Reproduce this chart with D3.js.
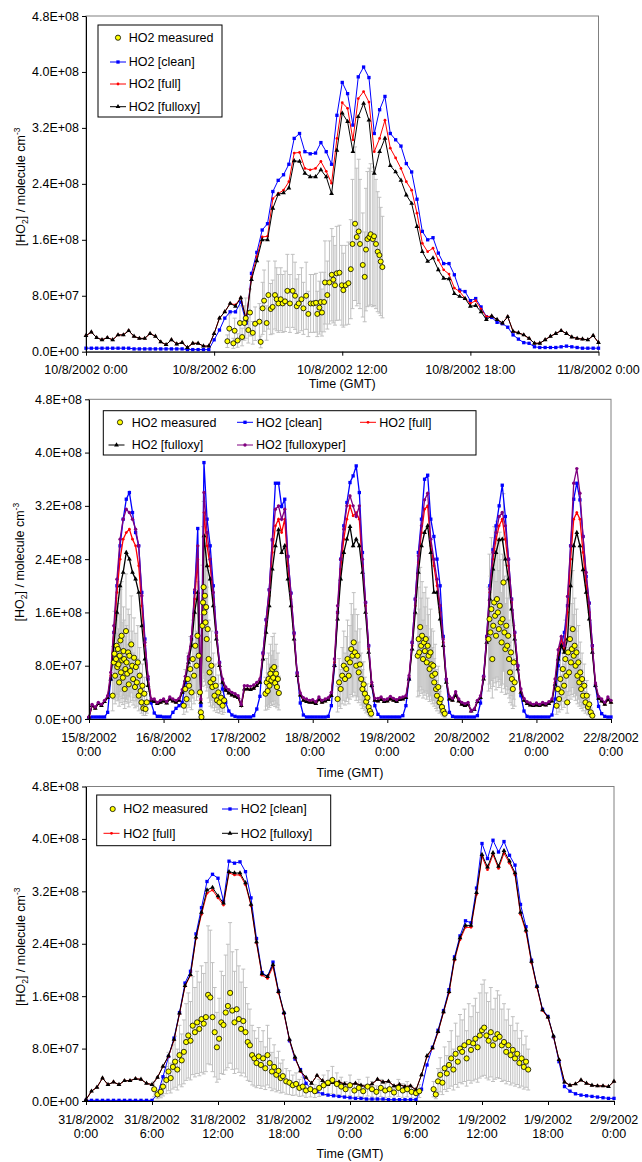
<!DOCTYPE html>
<html>
<head>
<meta charset="utf-8">
<style>
body { margin: 0; background: #fff; }
svg { display: block; background: #fff; }
text { font-family: 'Liberation Sans', Arial, sans-serif; }
</style>
</head>
<body>

<svg id='chart'></svg>

<script src="https://d3js.org/d3.v7.min.js"></script>
<script>
W = 642
H = 1162
FONT = 12.5
UNIT = 1e7   // all series values below are in units of 1e7 molecule cm-3
Y_MAX = 4.8e8
Y_TICKS = [0, 8e7, 1.6e8, 2.4e8, 3.2e8, 4.0e8, 4.8e8]

// ---------- panel 1 : 10/8/2002, model output every 15 min ----------
TOP_STEP = 0.25
TOP_CLEAN = [0.5,0.5,0.5,0.5,0.5,0.5,0.5,0.5,0.5,0.4,0.4,0.4,0.4,0.4,0.4,0.4,0.4,0.4,0.4,0.3,0.3,0.3,0.3,0.3,
  1.7,3.1,4.8,5.7,5.7,7.1,4.1,11.2,14.2,17.4,18.3,22.9,24.5,25.3,26.8,30.5,31.2,28.6,28.3,28.4,29.9,28.6,26.8,33.8,
  38.5,36.9,32.4,39.3,40.7,39.2,31.2,34.6,36.5,31.2,30.3,29.4,26.9,25.7,21.8,17.2,16.0,16.3,14.1,12.6,12.6,11.0,8.8,8.6,
  7.3,7.6,6.4,5.0,4.9,4.2,4.0,3.5,2.4,1.8,1.3,1.2,0.7,0.6,0.6,0.6,0.6,0.7,0.8,0.7,0.6,0.5,0.5,0.5,0.5]
TOP_FULL = [2.3,2.8,2.0,1.7,2.0,1.7,2.4,2.4,3.0,2.2,1.9,1.9,2.6,2.2,1.4,1.0,1.7,1.1,1.3,0.6,1.2,1.2,0.8,0.8,
  2.6,4.8,5.7,6.9,6.7,7.7,4.7,10.6,13.6,16.4,16.5,21.9,22.6,23.1,24.3,28.4,28.5,26.2,26.0,26.2,27.2,25.8,24.1,30.5,
  35.6,34.8,30.3,36.2,37.2,35.7,28.6,30.5,33.1,29.1,27.7,26.2,24.3,23.1,19.8,15.5,14.3,14.8,13.1,11.7,11.1,9.1,8.6,7.6,
  6.9,7.3,6.1,5.0,5.1,4.6,4.1,5.0,2.9,2.7,2.4,1.9,1.2,1.2,1.7,2.2,2.6,3.0,2.6,2.1,1.9,1.8,1.7,2.3,1.3]
TOP_FULLOXY = [2.3,2.8,2.0,1.7,2.0,1.7,2.4,2.4,3.0,2.2,1.9,1.9,2.6,2.2,1.4,1.0,1.7,1.1,1.3,0.6,1.2,1.2,0.8,0.8,
  2.6,4.8,5.7,6.9,6.5,7.7,4.5,10.3,13.0,16.0,16.0,20.5,22.5,22.7,23.4,27.3,27.2,25.5,25.0,25.0,26.0,25.0,22.6,28.8,
  34.1,32.9,28.6,33.6,35.5,33.1,25.5,28.6,30.5,26.6,25.7,24.5,22.4,21.2,17.9,14.3,12.9,13.4,11.7,10.5,10.4,8.3,7.9,7.6,
  6.5,6.6,5.7,4.6,5.1,4.6,4.1,5.0,2.9,2.7,2.4,1.9,1.2,1.2,1.7,2.2,2.6,3.0,2.6,2.1,1.9,1.8,1.7,2.3,1.3]
// measured HO2: [hour, value]
TOP_MEAS = [[6.62,1.5],[6.71,3.3],[6.90,1.2],[6.96,3.0],[7.10,1.6],[7.21,4.1],[7.31,2.1],[7.42,4.1],[7.48,4.8],
  [7.60,3.1],[7.68,5.6],[7.81,2.7],[7.92,4.0],[8.12,4.3],[8.18,1.4],[8.27,6.2],[8.34,7.3],[8.46,4.1],[8.54,8.1],
  [8.65,6.1],[8.74,6.4],[8.85,8.1],[8.93,7.5],[9.01,6.9],[9.12,7.5],[9.21,6.9],[9.32,7.2],[9.43,8.7],[9.55,6.9],
  [9.68,8.7],[9.79,8.0],[9.87,6.5],[9.96,6.9],[10.09,7.5],[10.18,6.2],[10.31,8.0],[10.41,5.4],[10.52,6.9],[10.65,6.9],
  [10.77,7.0],[10.83,5.4],[10.93,6.3],[10.99,7.1],[11.05,5.6],[11.15,7.1],[11.19,9.9],[11.30,8.1],[11.40,9.9],
  [11.51,11.0],[11.58,10.3],[11.66,9.5],[11.74,11.2],[11.87,11.3],[11.98,9.5],[12.05,8.8],[12.16,9.5],[12.29,9.8],
  [12.40,11.8],[12.48,15.4],[12.60,18.3],[12.68,16.4],[12.77,17.2],[12.83,15.4],[12.96,12.4],[13.05,10.7],[13.11,14.6],
  [13.18,16.1],[13.27,16.4],[13.33,16.8],[13.43,16.1],[13.49,16.5],[13.58,15.4],[13.66,14.3],[13.74,13.8],[13.80,12.9],
  [13.88,12.1]]
TOP_ERR_FRAC = 0.6
TOP_TICK_HOURS = [0, 6, 12, 18, 24]
TOP_TICK_LABELS = [['10/8/2002 0:00'], ['10/8/2002 6:00'], ['10/8/2002 12:00'], ['10/8/2002 18:00'], ['11/8/2002 0:00']]

// ---------- panel 2 : 15/8 - 22/8/2002, hourly ----------
MID_STEP = 1
MID_CLEAN = [
  0.2,0.3,0.3,0.3,0.3,0.3,1.0,6,13,20,26,30,33,34,31,28,26,19,12,6,2.4,0.9,0.4,0.4,
  0.3,0.3,0.3,1.0,1.6,2.0,2.5,5.5,9,12,19,28.6,2.0,38.5,30,26,20,13,8.5,4.5,2.5,1.2,0.6,0.4,
  0.3,0.3,0.3,0.3,0.3,0.5,1.5,3.4,9.9,14.9,19.4,26.9,35.4,35.4,31.9,33,24.4,18.9,12.9,6.9,2.4,0.6,0.3,0.3,
  0.3,0.3,0.3,0.3,0.3,0.4,2,8,16,24,29,32.5,35.5,36.5,38,34,25,17.5,11,5,2,0.7,0.3,0.3,
  0.3,0.3,0.3,0.3,0.3,0.5,2,6,11.5,18,25,30,36,36.6,30,27.4,24,20,12.4,5.9,1,0.4,0.3,0.3,
  0.3,0.3,0.3,0.3,0.3,0.5,2.4,6.4,12.4,20,25.4,29,32,35.1,30.4,24,18,13,8,3.5,1.2,0.4,0.3,0.3,
  0.3,0.3,0.3,0.3,0.3,0.6,3,8,11,13,17,26,33,35.4,32.9,27.4,21.4,17.4,11,5,1.9,0.8,0.4,0.3,
  0.3]
MID_FULL = [
  0.3,2.0,1.6,2.3,2.0,2.6,3.2,6.5,13,19,24,27,28,28.5,27,26,23,17,11,6,2.8,2.6,2.3,2.5,
  2.7,2.4,3.0,2.7,2.5,2.8,4.0,6.0,9,12,18,24,2.8,31,26,23,18,12.5,8,5.5,4.3,3.9,3.6,3.4,
  3.2,2.0,4.5,4.5,4.4,4.6,5.0,5.6,9.5,14,18.5,25,29,30,28,30,23,18,12.5,6.7,3.6,2.8,2.6,2.5,
  2.5,2.3,2.9,2.5,2.7,2.9,3.6,8.5,16,22.5,27,30,32,30.5,31,30,23,17,10.5,5.2,2.8,2.7,2.9,2.6,
  2.7,3.0,2.8,2.6,2.9,3.0,3.2,6.2,11,17,23.5,28,31.5,32,26,23,20,16,11.5,5.7,3.0,2.8,3.6,2.7,
  2.2,2.0,2.2,1.2,1.4,2.6,3.2,6.2,12,19,24,27,29,30,27,23,17.5,12.5,7.8,4.2,2.8,2.3,2.1,2.0,
  2.1,2.0,2.2,2.1,2.3,2.7,5.5,9.5,12,10.5,16,24,30,31,30,25,20,16,10.5,5.2,3.1,2.7,2.2,2.9,
  2.5]
MID_FULLOXY = [
  0.3,2.0,1.6,2.3,2.0,2.6,3.2,6,11,16,20,22,25,24,22,21,19,14,9,5,2.8,2.6,2.3,2.5,
  2.7,2.4,3.0,2.7,2.5,2.8,4.0,5.8,8.5,11,16,19,2.5,27.5,23,21,17,12,8,5.5,4.3,3.9,3.6,3.4,
  3.2,2.0,4.5,4.5,4.4,4.6,5.0,5.5,9,13,17,22.5,26,28.4,25,26,21,17,12,6.5,3.6,2.8,2.6,2.5,
  2.5,2.3,2.9,2.5,2.7,2.9,3.5,8,15,21,25,27,28.9,26,27,26,22,16,10,5,2.8,2.7,2.9,2.6,
  2.7,3.0,2.8,2.6,2.9,3.0,3.2,6,10.5,16,22,26,28,29,25,19,19,15,11,5.5,3.0,2.8,3.6,2.7,
  2.2,2.0,2.2,1.2,1.4,2.6,3.2,6,11.5,18,22.5,25,26.9,27,24,21,16.5,12,7.5,4,2.8,2.3,2.1,2.0,
  2.1,2.0,2.2,2.1,2.3,2.7,5.2,9,11,10,12,20,26,28,26,22.4,19,15,10,5,3.1,2.7,2.2,2.9,
  2.5]
MID_FULLOXYPER = [
  0.3,2.2,1.8,2.5,2.2,2.8,3.5,7,14,21,27,30,31.5,31,30,28.5,26,18.5,11.5,6.4,3,3,2.5,2.8,
  3,2.6,3.3,3.0,2.8,3.1,4.4,6.4,9.4,12.4,19.4,26,3,34,28,24,19,13,8.5,6,4.8,4.4,4.0,3.8,
  3.5,2.2,5.0,5.0,4.9,5.1,5.5,6,9.9,14.9,19.4,26.9,31.5,32,30,31.5,24.4,18.9,12.9,6.9,3.9,3.2,3.0,2.8,
  2.9,2.6,3.3,2.8,3.0,3.2,4,9,17,24,28.5,32,33.5,32,30.4,32,24,17.5,11,5.5,3.1,3.1,3.3,2.9,
  3.0,3.4,3.1,2.9,3.2,3.3,3.5,6.5,11.5,18,24.5,29,32.9,33.9,27,24,21,17,12,6,3.4,3.1,4.1,3.0,
  2.5,2.3,2.5,1.2,1.5,2.8,3.5,6.4,12.4,19.5,25,28,30.4,31,29,24,18,13,8,4.5,3.1,2.6,2.4,2.2,
  2.4,2.2,2.5,2.3,2.6,3.0,6,10.4,12.4,11,18.4,26,35.4,37.6,33.9,27.4,22,17.4,11,5.4,3.4,3.0,2.5,3.3,
  2.8]
MID_MEAS = [
  [7.6,3.5],[8.0,8.5],[8.2,9.8],[8.4,6.5],[8.7,9.0],[8.9,11.0],[9.1,7.8],[9.3,10.5],[9.5,8.2],[9.7,5.5],[9.9,9.5],
  [10.1,11.8],[10.3,7.0],[10.5,12.5],[10.7,8.8],[10.9,6.2],[11.1,10.2],[11.3,9.0],[11.5,4.5],[11.7,7.5],[11.9,13.2],
  [12.1,8.5],[12.3,6.8],[12.6,10.0],[12.8,5.2],[13.0,9.5],[13.3,7.2],[13.6,11.2],[13.9,8.0],[14.2,6.0],[14.5,9.2],
  [14.8,4.8],[15.1,7.8],[15.4,5.5],[15.7,8.5],[16.0,3.5],[16.3,6.5],[16.6,4.2],[16.9,2.5],[17.2,5.0],[17.5,1.6],
  [17.8,3.8],[18.2,1.5],[18.6,2.5],
  [30.5,2.0],[31.0,4.5],[31.4,3.0],[31.8,6.0],[32.2,5.0],[32.6,7.5],[33.0,4.0],[33.4,9.0],[33.8,6.5],[34.2,11.0],
  [34.6,8.0],[34.9,12.5],[35.3,9.5],[35.7,4.0],[36.0,1.0],[36.2,0.3],[36.5,14.0],[36.7,17.5],[36.9,19.8],[37.1,16.0],
  [37.3,18.5],[37.5,14.5],[37.7,16.8],[37.9,12.0],[38.2,13.5],[38.5,9.0],[38.8,7.0],[39.1,5.5],[39.4,8.0],[39.7,4.8],
  [40.0,6.0],[40.4,3.5],[40.8,5.0],[41.2,2.8],[41.6,4.0],[42.0,2.5],[42.5,3.2],[43.0,2.0],[43.5,2.8],
  [56.8,3.8],[57.2,5.5],[57.5,4.2],[57.8,6.0],[58.1,5.0],[58.4,6.8],[58.7,5.8],[59.0,7.5],[59.3,6.2],[59.6,7.8],
  [59.9,5.4],[60.2,6.8],[60.5,4.8],[60.8,6.0],[61.1,3.9],
  [80.0,3.0],[80.5,5.5],[81.0,4.5],[81.5,6.5],[82.0,8.0],[82.4,6.0],[82.8,7.5],[83.2,9.0],[83.6,6.5],[84.0,8.5],
  [84.4,10.5],[84.8,9.5],[85.2,11.5],[85.6,10.0],[86.0,8.0],[86.4,9.5],[86.8,7.0],[87.2,8.2],[87.6,6.0],[88.0,4.5],
  [88.4,5.2],[88.8,3.8],[89.2,2.6],[89.6,3.2],[90.0,1.8],[90.4,1.2],[90.8,0.8],
  [105.8,9.5],[106.1,12.0],[106.3,10.0],[106.6,13.8],[106.9,11.0],[107.2,12.5],[107.5,9.0],[107.8,11.5],[108.1,10.2],
  [108.4,12.0],[108.7,8.5],[109.0,11.0],[109.3,9.5],[109.6,7.5],[109.9,10.0],[110.2,8.2],[110.5,6.5],[110.8,8.0],
  [111.1,5.5],[111.4,6.8],[111.7,4.5],[112.0,3.5],[112.4,4.8],[112.8,2.5],[113.2,3.0],[113.6,1.8],[114.0,1.2],[114.5,0.8],
  [128.6,12.0],[128.9,15.0],[129.2,13.0],[129.5,16.5],[129.8,9.0],[130.1,14.0],[130.4,17.5],[130.7,15.5],[131.0,12.5],
  [131.3,18.0],[131.6,16.0],[131.9,13.5],[132.2,17.0],[132.5,14.5],[132.8,11.5],[133.1,15.0],[133.4,20.5],[133.7,13.0],
  [134.0,10.5],[134.3,14.0],[134.6,11.0],[134.9,12.5],[135.2,9.0],[135.5,7.0],[135.8,10.0],[136.1,6.0],[136.4,4.5],
  [136.7,8.5],[137.0,5.5],
  [150.5,2.0],[150.9,4.5],[151.3,3.0],[151.7,6.0],[152.1,4.0],[152.5,7.5],[152.9,5.0],[153.3,9.0],[153.6,6.5],
  [153.9,2.5],[154.2,10.0],[154.5,7.0],[154.8,12.0],[155.1,8.5],[155.4,10.5],[155.7,13.5],[156.0,9.5],[156.3,11.0],
  [156.6,8.0],[156.9,10.0],[157.2,6.5],[157.5,8.5],[157.8,5.5],[158.1,7.0],[158.4,4.5],[158.7,6.0],[159.0,3.5],
  [159.4,5.0],[159.8,2.5],[160.2,3.5],[160.6,1.8],[161.0,2.2],[161.5,1.0],[162.0,0.5]]
MID_ERR_FRAC = 0.65
MID_TICK_HOURS = [0, 24, 48, 72, 96, 120, 144, 168]
MID_TICK_LABELS = [['15/8/2002','0:00'], ['16/8/2002','0:00'], ['17/8/2002','0:00'], ['18/8/2002','0:00'],
  ['19/8/2002','0:00'], ['20/8/2002','0:00'], ['21/8/2002','0:00'], ['22/8/2002','0:00']]

// ---------- panel 3 : 31/8 - 2/9/2002, every 30 min ----------
BOT_STEP = 0.5
BOT_CLEAN = [0.1,0.1,0.1,0.1,0.1,0.1,0.1,0.1,0.1,0.1,0.1,0.1,
  0.1,1.0,3.7,6.8,9.6,13.5,18.0,19.8,25.5,29.5,33.5,34.6,
  34.0,30.5,36.6,36.3,36.5,35.0,31.0,24.8,19.6,19.0,21.2,16.8,
  13.4,9.2,6.4,4.8,2.7,1.8,1.4,1.1,0.9,0.8,0.7,0.6,
  0.5,0.4,0.4,0.3,0.3,0.3,0.3,0.2,0.2,0.2,0.2,0.2,
  0.2,1.8,5.5,8.2,10.8,13.8,17.0,22.0,25.2,27.5,27.2,32.5,
  39.3,37.0,39.8,38.0,39.6,37.5,36.0,30.0,26.6,21.5,17.5,14.0,
  12.9,9.8,6.0,2.2,1.5,1.1,0.9,0.8,0.7,0.6,0.5,0.4,0.4]
BOT_FULL = [0.2,1.5,2.1,3.5,2.5,2.9,2.5,3.1,3.1,3.4,3.3,2.7,
  2.5,3.6,5.3,6.8,9.3,13.3,17.5,19.2,24.8,28.5,31.7,32.2,
  31.0,29.9,34.8,34.5,34.5,33.0,29.8,24.1,19.2,18.7,20.5,16.5,
  13.3,9.3,6.6,4.5,3.5,2.7,3.9,3.1,2.5,2.8,2.9,2.6,
  2.5,2.7,2.4,2.2,2.6,3.3,2.9,3.0,2.3,2.5,2.2,2.3,
  1.7,4.0,6.8,8.0,10.5,13.5,16.5,21.5,24.6,26.5,26.5,31.5,
  37.3,35.3,37.6,35.5,37.8,36.3,34.5,28.5,25.8,21.1,17.3,13.8,
  12.7,9.8,6.3,2.9,2.4,2.6,3.2,2.7,2.4,2.3,2.3,2.2,3.0]
BOT_FULLOXY = [0.2,1.5,2.1,3.5,2.5,2.9,2.5,3.1,3.1,3.4,3.3,2.7,
  2.5,3.6,5.3,6.9,9.4,13.4,17.6,19.3,25.0,28.8,32.2,32.6,
  31.3,30.2,35.0,34.8,34.8,33.3,30.0,24.3,19.4,19.0,20.8,16.7,
  13.5,9.4,6.7,4.6,3.6,2.7,3.9,3.1,2.5,2.8,2.9,2.6,
  2.5,2.7,2.4,2.2,2.6,3.3,2.9,3.0,2.3,2.5,2.2,2.3,
  1.7,4.0,6.9,8.1,10.6,13.6,16.7,21.7,24.9,26.8,26.8,31.8,
  37.6,35.7,37.9,35.8,38.2,36.6,34.8,28.8,26.1,21.3,17.5,13.9,
  12.8,9.9,6.3,2.9,2.4,2.6,3.2,2.7,2.4,2.3,2.3,2.2,3.0]
BOT_MEAS = [
  [6.2,1.8],[6.5,1.0],[6.8,1.4],[7.0,2.2],[7.3,3.2],[7.5,4.5],[7.7,3.5],[7.9,5.2],[8.1,6.0],[8.3,4.8],[8.5,7.0],
  [8.7,6.2],[8.9,7.5],[9.1,9.0],[9.3,10.0],[9.5,9.2],[9.7,11.5],[9.9,10.5],[10.1,12.0],[10.3,11.0],[10.5,12.5],
  [10.7,11.8],[10.9,12.8],[11.1,16.2],[11.3,15.8],[11.5,12.8],[11.7,10.5],[11.9,8.2],[12.1,9.5],[12.3,12.0],
  [12.5,11.6],[12.7,13.5],[12.9,14.5],[13.1,16.5],[13.3,13.8],[13.5,12.0],[13.7,14.0],[13.9,12.5],[14.1,11.0],
  [14.3,12.2],[14.5,10.5],[14.7,9.0],[14.9,8.5],[15.1,7.0],[15.3,6.5],[15.5,5.8],[15.7,6.8],[15.9,5.5],[16.1,6.5],
  [16.3,5.0],[16.5,7.0],[16.7,5.8],[16.9,4.5],[17.1,5.2],[17.3,4.0],[17.5,4.6],[17.7,3.5],[17.9,3.8],[18.2,3.0],
  [18.5,2.8],[18.8,2.4],[19.1,2.6],[19.4,2.0],[19.7,2.2],[20.0,1.6],[20.4,1.8],[20.8,1.5],[21.2,2.0],[21.6,2.4],
  [22.0,2.8],[22.4,3.2],[22.8,2.6],[23.2,2.2],[23.6,1.8],[24.0,2.4],[24.4,1.6],[24.8,2.0],[25.2,1.5],[25.6,2.2],
  [26.0,1.8],[26.4,1.4],[26.8,2.0],[27.2,1.6],[27.6,1.8],[28.0,1.3],[28.4,2.0],[28.8,1.6],[29.2,1.8],[29.6,1.4],
  [30.0,1.2],[30.3,1.5],
  [31.6,1.8],[31.8,1.0],[32.0,3.0],[32.2,4.0],[32.4,2.8],[32.6,5.0],[32.8,4.2],[33.0,5.5],[33.2,6.5],[33.4,4.8],
  [33.6,7.2],[33.8,6.0],[34.0,8.0],[34.2,7.5],[34.4,8.5],[34.6,6.5],[34.8,9.0],[35.0,7.8],[35.2,8.8],[35.4,9.5],
  [35.6,8.2],[35.8,10.0],[36.0,10.8],[36.2,11.2],[36.4,10.0],[36.6,9.2],[36.8,10.5],[37.0,8.5],[37.2,9.5],[37.4,10.2],
  [37.6,9.8],[37.8,8.5],[38.0,9.0],[38.2,7.5],[38.4,8.5],[38.6,7.0],[38.8,7.8],[39.0,6.5],[39.2,7.2],[39.4,5.8],
  [39.6,6.5],[39.8,5.2],[40.0,6.0],[40.2,4.8]]
BOT_ERR_FRAC = 0.65
BOT_TICK_HOURS = [0, 6, 12, 18, 24, 30, 36, 42, 48]
BOT_TICK_LABELS = [['31/8/2002','0:00'], ['31/8/2002','6:00'], ['31/8/2002','12:00'], ['31/8/2002','18:00'],
  ['1/9/2002','0:00'], ['1/9/2002','6:00'], ['1/9/2002','12:00'], ['1/9/2002','18:00'], ['2/9/2002','0:00']]

// ---------- styles ----------
STYLE = {
  clean:      {color: '#0000ff', symbol: d3.symbolSquare,   size: 11, name: 'HO2 [clean]'},
  full:       {color: '#ff0000', symbol: d3.symbolCircle,   size: 6,  name: 'HO2 [full]'},
  fulloxy:    {color: '#000000', symbol: d3.symbolTriangle, size: 10, name: 'HO2 [fulloxy]'},
  fulloxyper: {color: '#800080', symbol: d3.symbolCircle,   size: 9,  name: 'HO2 [fulloxyper]'}
}

function sciLabel(v) {
	if (v === 0) return '0.0E+00';
	var e = Math.floor(Math.log10(v) + 1e-9);
	var m = v / Math.pow(10, e);
	return m.toFixed(1) + 'E+' + (e < 10 ? '0' + e : e);
}

function seriesPoints(values, step) {
	return values.map(function(v, i) { return [i * step, v * UNIT]; });
}

var svg = d3.select('#chart').attr('width', W).attr('height', H);

function drawSymbol(g, st, px, py) {
	g.append('path')
		.attr('d', d3.symbol().type(st.symbol).size(st.size)())
		.attr('transform', 'translate(' + px + ',' + py + ')')
		.style('fill', st.color)
		.style('stroke', 'none');
}

function drawMeasuredSymbol(g, px, py, r) {
	g.append('circle')
		.attr('cx', px).attr('cy', py).attr('r', r)
		.style('fill', '#ffff00')
		.style('stroke', '#000')
		.style('stroke-width', 0.8);
}

function drawPanel(p) {
	var x = d3.scaleLinear().domain([0, p.xMax]).range([p.x0, p.x1]);
	var y = d3.scaleLinear().domain([0, Y_MAX]).range([p.y1, p.y0]);
	var g = svg.append('g');

	// plot area frame (grey)
	g.append('rect')
		.attr('x', p.x0).attr('y', p.y0)
		.attr('width', p.x1 - p.x0).attr('height', p.y1 - p.y0)
		.style('fill', 'none').style('stroke', '#808080').style('stroke-width', 1);

	// error bars of measured HO2
	var eb = g.append('g').style('stroke', '#c0c0c0').style('stroke-width', 1);
	p.measured.forEach(function(d) {
		var xx = x(d[0]);
		var lo = y(d[1] * UNIT * (1 - p.errFrac));
		var hi = y(d[1] * UNIT * (1 + p.errFrac));
		eb.append('line').attr('x1', xx).attr('x2', xx).attr('y1', lo).attr('y2', hi);
		eb.append('line').attr('x1', xx - 2).attr('x2', xx + 2).attr('y1', lo).attr('y2', lo);
		eb.append('line').attr('x1', xx - 2).attr('x2', xx + 2).attr('y1', hi).attr('y2', hi);
	});

	// model series
	var line = d3.line().x(function(d) { return x(d[0]); }).y(function(d) { return y(d[1]); });
	p.series.forEach(function(s) {
		var pts = seriesPoints(s.values, s.step);
		g.append('path')
			.attr('d', line(pts))
			.style('fill', 'none')
			.style('stroke', s.style.color)
			.style('stroke-width', p.lineWidth);
		var mg = g.append('g');
		pts.forEach(function(d) { drawSymbol(mg, s.style, x(d[0]), y(d[1])); });
	});

	// measured points
	var mp = g.append('g');
	p.measured.forEach(function(d) { drawMeasuredSymbol(mp, x(d[0]), y(d[1] * UNIT), p.measR); });

	// axes
	var ya = g.append('g')
		.attr('transform', 'translate(' + p.x0 + ',0)')
		.call(d3.axisLeft(y).tickValues(Y_TICKS).tickFormat(sciLabel).tickSize(4).tickSizeOuter(0).tickPadding(3));
	ya.selectAll('text').attr('font-size', FONT).attr('font-family', "'Liberation Sans', Arial, sans-serif").attr('fill', '#000');
	ya.selectAll('line, path').style('stroke', '#000');

	var xa = g.append('g')
		.attr('transform', 'translate(0,' + p.y1 + ')')
		.call(d3.axisBottom(x).tickValues(p.tickHours).tickFormat('').tickSize(4).tickSizeOuter(0));
	xa.selectAll('line, path').style('stroke', '#000');

	// x tick labels (one or two lines)
	p.tickHours.forEach(function(h, i) {
		p.tickLabels[i].forEach(function(t, k) {
			g.append('text')
				.attr('x', x(h)).attr('y', p.labelY[k])
				.attr('text-anchor', 'middle')
				.attr('font-size', FONT)
				.text(t);
		});
	});

	g.append('text')
		.attr('x', (p.x0 + p.x1) / 2).attr('y', p.titleY)
		.attr('text-anchor', 'middle').attr('font-size', FONT)
		.text('Time (GMT)');

	var yt = g.append('text')
		.attr('transform', 'translate(' + p.yTitleX + ',' + ((p.y0 + p.y1) / 2 + 3) + ') rotate(-90)')
		.attr('text-anchor', 'middle').attr('font-size', FONT);
	yt.append('tspan').text('[HO');
	yt.append('tspan').attr('font-size', 8.5).attr('dy', 3).text('2');
	yt.append('tspan').attr('dy', -3).text('] / molecule cm');
	yt.append('tspan').attr('font-size', 8.5).attr('dy', -5).text('-3');

	// legend
	var lb = p.legendBox;
	var lg = g.append('g');
	lg.append('rect')
		.attr('x', lb[0]).attr('y', lb[1]).attr('width', lb[2]).attr('height', lb[3])
		.style('fill', '#fff').style('stroke', '#000').style('stroke-width', 1);
	p.legend.forEach(function(it) {
		if (it.key === 'measured') {
			drawMeasuredSymbol(lg, it.cx, it.cy, 2.6);
			lg.append('text').attr('x', it.tx).attr('y', it.cy + 4.4).attr('font-size', FONT).text('HO2 measured');
		} else {
			var st = STYLE[it.key];
			lg.append('line')
				.attr('x1', it.cx - 8).attr('x2', it.cx + 8).attr('y1', it.cy).attr('y2', it.cy)
				.style('stroke', st.color).style('stroke-width', 1);
			drawSymbol(lg, st, it.cx, it.cy);
			lg.append('text').attr('x', it.tx).attr('y', it.cy + 4.4).attr('font-size', FONT).text(st.name);
		}
	});
}

drawPanel({
	x0: 86, x1: 598.5, y0: 16, y1: 351.7, xMax: 24, lineWidth: 1,
	series: [
		{values: TOP_CLEAN, step: TOP_STEP, style: STYLE.clean},
		{values: TOP_FULL, step: TOP_STEP, style: STYLE.full},
		{values: TOP_FULLOXY, step: TOP_STEP, style: STYLE.fulloxy}
	],
	measured: TOP_MEAS, errFrac: TOP_ERR_FRAC, measR: 2.5,
	tickHours: TOP_TICK_HOURS, tickLabels: TOP_TICK_LABELS,
	labelY: [373.5], titleY: 388, yTitleX: 25,
	legendBox: [98, 25, 124, 92],
	legend: [
		{key: 'measured', cx: 118, cy: 37.7, tx: 128.7},
		{key: 'clean', cx: 118, cy: 62, tx: 128.7},
		{key: 'full', cx: 118, cy: 84, tx: 128.7},
		{key: 'fulloxy', cx: 118, cy: 106.7, tx: 128.7}
	]
});

drawPanel({
	x0: 89, x1: 611, y0: 399.3, y1: 719, xMax: 168, lineWidth: 1.3,
	series: [
		{values: MID_CLEAN, step: MID_STEP, style: STYLE.clean},
		{values: MID_FULL, step: MID_STEP, style: STYLE.full},
		{values: MID_FULLOXY, step: MID_STEP, style: STYLE.fulloxy},
		{values: MID_FULLOXYPER, step: MID_STEP, style: STYLE.fulloxyper}
	],
	measured: MID_MEAS, errFrac: MID_ERR_FRAC, measR: 2.6,
	tickHours: MID_TICK_HOURS, tickLabels: MID_TICK_LABELS,
	labelY: [742, 755.5], titleY: 777, yTitleX: 23.5,
	legendBox: [103.3, 410.7, 372.7, 44.3],
	legend: [
		{key: 'measured', cx: 120, cy: 422.3, tx: 131.7},
		{key: 'clean', cx: 245, cy: 422.3, tx: 256},
		{key: 'full', cx: 368, cy: 422.3, tx: 379.3},
		{key: 'fulloxy', cx: 116.5, cy: 445, tx: 131.7},
		{key: 'fulloxyper', cx: 245, cy: 445, tx: 256}
	]
});

drawPanel({
	x0: 86, x1: 614, y0: 786.5, y1: 1101, xMax: 48, lineWidth: 1,
	series: [
		{values: BOT_CLEAN, step: BOT_STEP, style: STYLE.clean},
		{values: BOT_FULL, step: BOT_STEP, style: STYLE.full},
		{values: BOT_FULLOXY, step: BOT_STEP, style: STYLE.fulloxy}
	],
	measured: BOT_MEAS, errFrac: BOT_ERR_FRAC, measR: 2.6,
	tickHours: BOT_TICK_HOURS, tickLabels: BOT_TICK_LABELS,
	labelY: [1123.5, 1137.5], titleY: 1157.5, yTitleX: 24.5,
	legendBox: [96.7, 795, 234, 50.7],
	legend: [
		{key: 'measured', cx: 112.7, cy: 809, tx: 123.3},
		{key: 'clean', cx: 230, cy: 809, tx: 240.7},
		{key: 'full', cx: 111.5, cy: 833.3, tx: 123.3},
		{key: 'fulloxy', cx: 230, cy: 833.3, tx: 240.7}
	]
});

</script>

</body>
</html>
